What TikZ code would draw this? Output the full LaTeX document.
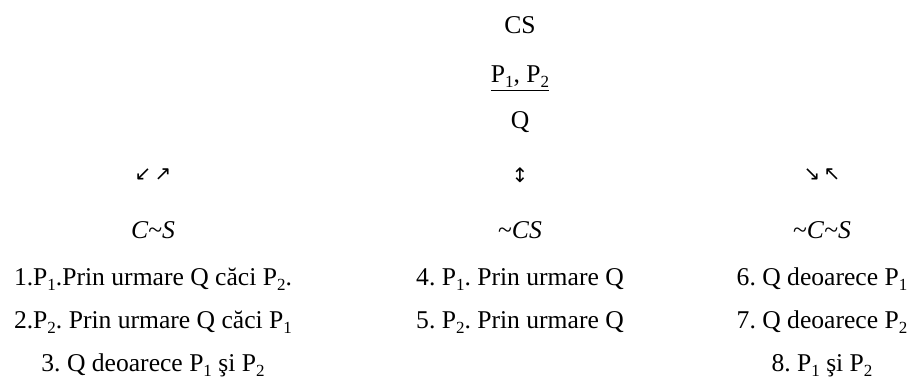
\documentclass[tikz,border=0pt]{standalone}
\usepackage{fontspec}
\setmainfont{Liberation Serif}
\newfontfamily\arrowfont{DejaVu Sans}
\usetikzlibrary{positioning}
\tikzset{
  txt/.style={anchor=base, inner sep=0pt, font=\fontsize{12.8}{15}\selectfont},
  arr/.style={inner sep=0pt, font=\arrowfont\fontsize{10}{12}\selectfont},
}
\newcommand{\Psub}[1]{P\raisebox{-0.45ex}{\fontsize{8.5}{10}\selectfont #1}}
\frenchspacing

\begin{document}
\begin{tikzpicture}[x=0.5pt, y=-0.5pt]
\useasboundingbox (0,0) rectangle (912,381);

% Syllogism on top
\node[txt] (cs) at (520,33) {CS};
\node[txt] (prem) at (520,82) {\underline{\Psub{1}, \Psub{2}}};
\node[txt] (q) at (520,128) {Q};

% Arrows
\node[arr] (arrL) at (153,175) {↙\,↗};
\node[arr] (arrM) at (520,175) {↕};
\node[arr] (arrR) at (822,175) {↘\,↖};

% Column heads
\node[txt] (colL) at (153,238) {\textit{C}\textasciitilde\textit{S}};
\node[txt] (colM) at (520,238) {\textasciitilde\textit{CS}};
\node[txt] (colR) at (822,238) {\textasciitilde\textit{C}\textasciitilde\textit{S}};

% Left column
\node[txt] (l1) at (153,285) {1.\Psub{1}.Prin urmare Q căci \Psub{2}.};
\node[txt] (l2) at (153,328) {2.\Psub{2}. Prin urmare Q căci \Psub{1}};
\node[txt] (l3) at (153,371) {3. Q deoarece \Psub{1} şi \Psub{2}};

% Middle column
\node[txt] (l4) at (520,285) {4. \Psub{1}. Prin urmare Q};
\node[txt] (l5) at (520,328) {5. \Psub{2}. Prin urmare Q};

% Right column
\node[txt] (l6) at (822,285) {6. Q deoarece \Psub{1}};
\node[txt] (l7) at (822,328) {7. Q deoarece \Psub{2}};
\node[txt] (l8) at (822,371) {8. \Psub{1} şi \Psub{2}};

\end{tikzpicture}
\end{document}
